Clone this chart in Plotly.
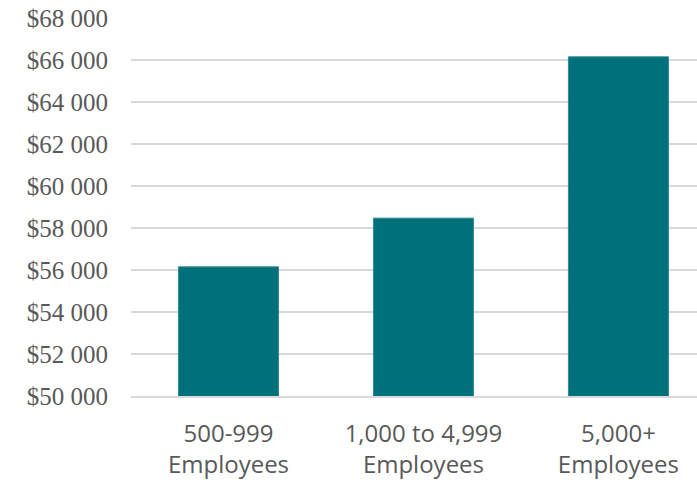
import plotly.graph_objects as go

categories = ["500-999<br>Employees", "1,000 to 4,999<br>Employees", "5,000+<br>Employees"]
values = [56150, 58470, 66150]
tick_vals = [50000, 52000, 54000, 56000, 58000, 60000, 62000, 64000, 66000, 68000]
tick_text = ["$50 000", "$52 000", "$54 000", "$56 000", "$58 000", "$60 000",
             "$62 000", "$64 000", "$66 000", "$68 000"]

fig = go.Figure(go.Bar(
    x=categories, y=values,
    marker=dict(color="#00717B", line=dict(color="#2E8A92", width=1)),
    width=0.513,
))

fig.update_layout(
    width=697, height=482,
    margin=dict(l=131, r=0, t=18, b=86, autoexpand=False),
    paper_bgcolor="white", plot_bgcolor="white",
    showlegend=False,
    xaxis=dict(
        range=[-0.5, 2.403],
        showgrid=False, zeroline=False, automargin=False,
        showline=True, linecolor="#D9D9D9", linewidth=1.5,
        tickfont=dict(family="Open Sans", size=24, color="#595959"),
        ticklabelstandoff=15,
    ),
    yaxis=dict(
        range=[50000, 68000],
        tickvals=tick_vals, ticktext=tick_text,
        showgrid=True, gridcolor="#D9D9D9", gridwidth=1.5,
        zeroline=False, automargin=False,
        tickfont=dict(family="Liberation Serif", size=25, color="#595959"),
        ticklabelstandoff=22,
    ),
)

fig.write_html("out.html", config={"displayModeBar": False},
               post_script="document.body.style.margin='0';document.body.style.overflow='hidden';")
